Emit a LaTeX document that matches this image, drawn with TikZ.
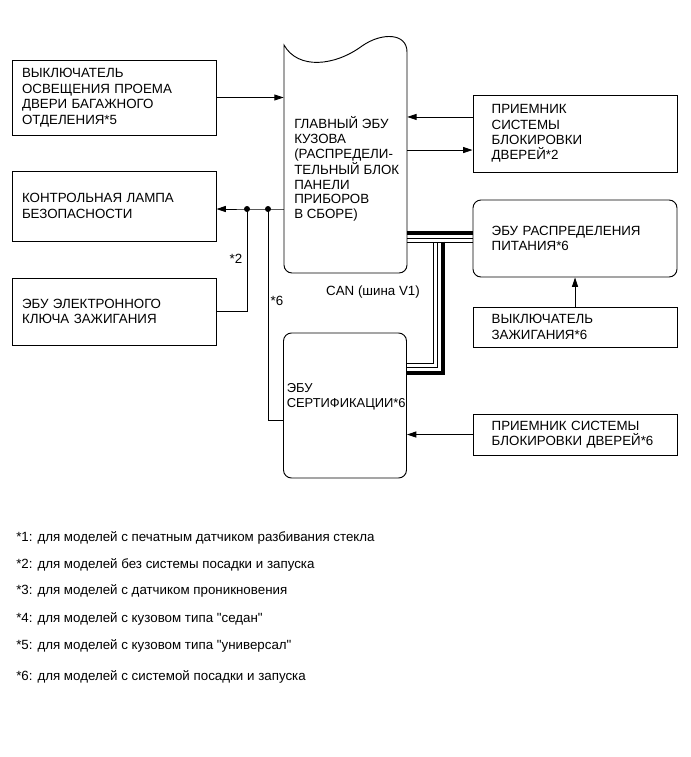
\documentclass[tikz,border=0pt]{standalone}
\usepackage{fontspec}
\setmainfont{Liberation Sans}[Ligatures=TeXOff]
\usetikzlibrary{arrows.meta,positioning}

\begin{document}
\begin{tikzpicture}[x=0.75pt,y=-0.75pt,>={Triangle[length=7pt,width=4.5pt]},
 every node/.style={font=\fontsize{10}{11.6}\selectfont},
 box/.style={draw,line width=0.7pt,minimum width=153pt,align=left,inner ysep=3pt},
 lbox/.style={box,inner xsep=7.5pt,text width=138pt},
 rbox/.style={box,inner xsep=14pt,text width=125pt},
 ecubox/.style={rbox,rounded corners=6pt},
 txt/.style={anchor=west,align=left,inner sep=0pt},
 line/.style={line width=0.6pt},
 arr/.style={line,->},
 dot/.style={circle,fill,inner sep=0pt,minimum size=4.5pt},
 busthin/.style={line width=0.7pt},
 busthick/.style={line width=2.6pt}]
\useasboundingbox (0,0) rectangle (691,757);
\node[lbox,minimum height=56.25pt] (trunk) at (114,97.5) {ВЫКЛЮЧАТЕЛЬ\\ОСВЕЩЕНИЯ ПРОЕМА\\ДВЕРИ БАГАЖНОГО\\ОТДЕЛЕНИЯ*5};
\node[lbox,minimum height=52.5pt] (lamp) at (114,206) {КОНТРОЛЬНАЯ ЛАМПА\\БЕЗОПАСНОСТИ};
\node[lbox,minimum height=50.25pt] (key) at (114,311.5) {ЭБУ ЭЛЕКТРОННОГО\\КЛЮЧА ЗАЖИГАНИЯ};
\node[minimum width=92.25pt,minimum height=174.75pt,inner sep=0pt] (main) at (345.5,156.5) {};
\draw[line width=0.7pt] (284,45) .. controls (298,70) and (335,66) .. (362,46) .. controls (382,32) and (407,33) .. (407,52) [rounded corners=6pt] -- (407,273) -- (284,273) [sharp corners] -- cycle;
\node[txt,font=\fontsize{10}{11.1}\selectfont] (maintxt) at (294,169) {ГЛАВНЫЙ ЭБУ\\КУЗОВА\\(РАСПРЕДЕЛИ-\\ТЕЛЬНЫЙ БЛОК\\ПАНЕЛИ\\ПРИБОРОВ\\В СБОРЕ)};
\node[rbox,minimum height=57.75pt] (door2) at (575,133.5) {ПРИЕМНИК\\СИСТЕМЫ\\БЛОКИРОВКИ\\ДВЕРЕЙ*2};
\node[ecubox,minimum height=57.75pt] (power) at (575,238.5) {ЭБУ РАСПРЕДЕЛЕНИЯ\\ПИТАНИЯ*6};
\node[rbox,minimum height=30pt] (ign) at (575,327) {ВЫКЛЮЧАТЕЛЬ\\ЗАЖИГАНИЯ*6};
\node[draw,rounded corners=6pt,line width=0.7pt,minimum width=92.25pt,minimum height=108.75pt,inner sep=0pt] (cert) at (345,405.5) {};
\node[txt,font=\fontsize{9.7}{11.6}\selectfont] (certtxt) at (286.5,397) {ЭБУ\\СЕРТИФИКАЦИИ*6};
\node[rbox,minimum height=30.75pt] (door6) at (575,434.5) {ПРИЕМНИК СИСТЕМЫ\\БЛОКИРОВКИ ДВЕРЕЙ*6};
\coordinate (j1) at (247,209);
\coordinate (j2) at (268,209);
\draw[arr] (trunk.east) -- (trunk.east -| main.west);
\draw[arr] ([yshift=12.4pt]door2.west) -- ([yshift=12.4pt]door2.west -| main.east);
\draw[arr] ([yshift=-12.4pt]door2.west -| main.east) -- ([yshift=-12.4pt]door2.west);
\draw[arr] (main.west |- j1) -- (j1) -- (lamp.east |- j1);
\draw[line] (j1) |- (key.east);
\draw[line] (j2) |- ([yshift=-11.25pt]cert.west);
\node[dot] at (j1) {};
\node[dot] at (j2) {};
\node (l2) at (236,259) {*2};
\node (l6) at (277,301) {*6};
\draw[arr] (ign.north) -- (power.south);
\draw[arr] (door6.west) -- (door6.west -| cert.east);
\draw[busthick] (main.east |- 0,233) -- (power.west |- 0,233);
\draw[busthin] (main.east |- 0,238) -- (power.west |- 0,238);
\draw[busthin] (main.east |- 0,242.5) -- (power.west |- 0,242.5);
\draw[busthin] (433,242.5) |- (cert.east |- 0,363);
\draw[busthin] (437.5,242.5) |- (cert.east |- 0,367.5);
\draw[busthick] (443,241.5) |- (cert.east |- 0,373);
\node (can) at (373,292) {CAN (шина V1)};
\node[txt] (n1) at (16,538) {*1: для моделей с печатным датчиком разбивания стекла};
\node[txt] (n2) at (16,565) {*2: для моделей без системы посадки и запуска};
\node[txt] (n3) at (16,591) {*3: для моделей с датчиком проникновения};
\node[txt] (n4) at (16,619) {*4: для моделей с кузовом типа "седан"};
\node[txt] (n5) at (16,646) {*5: для моделей с кузовом типа "универсал"};
\node[txt] (n6) at (16,677) {*6: для моделей с системой посадки и запуска};
\end{tikzpicture}
\end{document}
